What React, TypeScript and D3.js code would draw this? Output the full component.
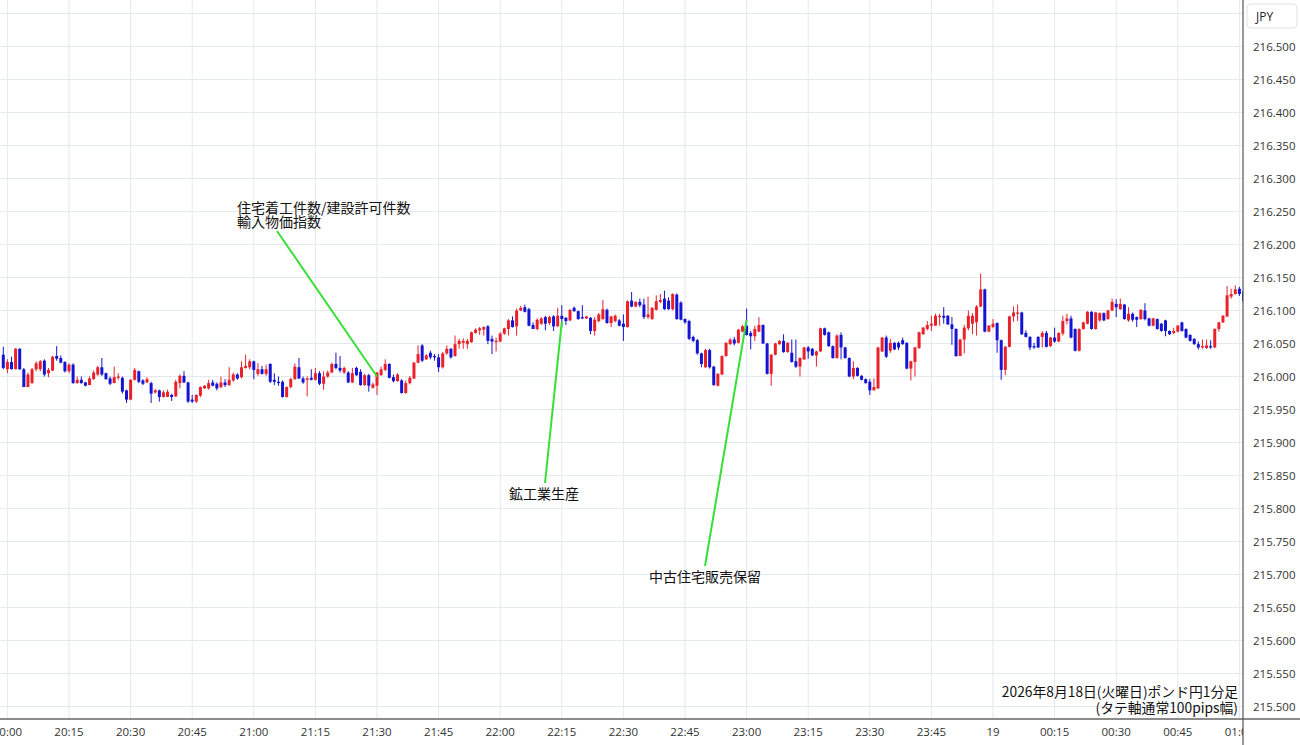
import React from 'react';
import * as d3 from 'd3';

// one-minute GBP/JPY candles: [open, high, low, close] in 0.001 JPY above 216.000
type Bar = [number, number, number, number];

const BASE = 216.0;

// 19:59 - 20:59
const bars20h: Bar[] = [
  [33, 45, 11, 13], [11, 26, 5, 22], [22, 30, 11, 11], [11, 43, 11, 42], [42, 43, 10, 11], [11, 13, -16, -16], [-16, 6, -16, 3], [-10, 13, -11, 11], [11, 23, 8, 20], [11, 25, 8, 23],
  [24, 26, 0, 3], [5, 13, -1, 10], [9, 31, 8, 30], [31, 46, 24, 27], [28, 32, 20, 21], [22, 23, 6, 8], [8, 20, 5, 18], [18, 20, -11, -10], [-10, 0, -11, -5], [-5, 0, -11, -10],
  [-9, -8, -15, -14], [-13, 0, -13, -3], [-4, 9, -5, 6], [3, 16, 1, 14], [14, 28, 1, 3], [5, 6, -5, -4], [-3, 0, -13, -11], [-10, 15, -10, -1], [-2, 5, -5, 0], [-2, 0, -26, -23],
  [-21, -20, -40, -35], [-35, -4, -36, -5], [-5, 13, -6, 10], [8, 9, -10, -8], [-6, -4, -13, -11], [-9, -1, -10, -4], [-10, -8, -40, -26], [-24, -19, -26, -21], [-21, -20, -38, -31], [-31, -21, -32, -24],
  [-31, -20, -31, -23], [-28, -26, -37, -31], [-30, -5, -31, -8], [-10, 3, -18, 1], [1, 8, -10, -9], [-9, -8, -40, -38], [-35, -28, -40, -38], [-38, -27, -40, -28], [-29, -15, -31, -16], [-18, -13, -19, -14],
  [-18, -5, -20, -10], [-9, -5, -15, -14], [-11, -9, -21, -18], [-16, 0, -18, -9], [-9, -4, -16, -13], [-13, 14, -14, -5], [-6, 6, -8, 3], [3, 5, -5, -3], [-1, 23, -3, 14], [13, 33, 12, 16],
  [14, 26, 11, 23],
];

// 21:00 - 21:59
const bars21h: Bar[] = [
  [23, 24, -4, 10], [4, 20, 1, 11], [11, 16, 3, 4], [4, 18, 1, 11], [19, 20, -10, -8], [-5, 5, -13, -8], [-8, 0, -14, -10], [-8, -6, -32, -31], [-31, -15, -32, -16], [-16, -2, -18, -4],
  [-4, 20, -5, 15], [14, 28, -4, -3], [-3, 0, -11, -9], [-5, 0, -30, -3], [-2, 11, -6, -5], [-5, 13, -6, 5], [5, 8, -13, -11], [-11, 8, -20, 0], [0, 9, -2, 6], [6, 21, 5, 19],
  [19, 36, 11, 13], [13, 31, 6, 9], [6, 15, 4, 13], [6, 8, -10, -9], [-9, 13, -10, 5], [13, 15, 1, 2], [7, 11, -14, -13], [-13, 4, -14, 2], [2, 4, -23, -14], [-17, -9, -18, -12],
  [-14, 7, -28, 6], [2, 15, 1, 11], [10, 26, 8, 19], [19, 20, -3, -2], [-1, 3, -9, -7], [-7, 5, -8, 3], [-6, -4, -26, -25], [-25, -6, -26, -10], [-10, 1, -12, -2], [-3, 22, -4, 21],
  [21, 47, 20, 34], [47, 49, 22, 24], [26, 34, 25, 32], [36, 39, 26, 29], [31, 34, 24, 29], [29, 34, 7, 14], [14, 37, 12, 35], [35, 47, 33, 42], [42, 43, 27, 29], [31, 62, 30, 49],
  [49, 57, 42, 54], [51, 58, 42, 54], [49, 57, 42, 54], [52, 68, 51, 67], [66, 73, 65, 71], [70, 75, 63, 73], [71, 76, 62, 75], [76, 78, 49, 54], [57, 62, 34, 53], [52, 59, 38, 54],
];

// 22:00 - 22:59
const bars22h: Bar[] = [
  [53, 67, 52, 65], [65, 74, 63, 73], [72, 87, 62, 85], [85, 91, 74, 75], [76, 103, 62, 100], [100, 107, 99, 104], [105, 109, 97, 98], [102, 104, 76, 77], [78, 82, 72, 72], [72, 88, 70, 86],
  [80, 90, 78, 88], [90, 92, 70, 80], [81, 92, 78, 90], [91, 93, 69, 76], [76, 104, 75, 92], [92, 108, 75, 87], [89, 90, 78, 84], [85, 102, 84, 101], [104, 106, 98, 99], [99, 100, 86, 87],
  [90, 108, 87, 88], [88, 92, 87, 91], [89, 90, 64, 69], [69, 90, 62, 86], [84, 96, 82, 94], [87, 116, 86, 102], [101, 103, 80, 81], [81, 92, 75, 91], [84, 94, 82, 92], [85, 87, 76, 77],
  [80, 94, 54, 75], [75, 115, 74, 114], [115, 128, 105, 106], [106, 114, 105, 113], [113, 118, 105, 108], [109, 118, 87, 90], [90, 121, 87, 94], [87, 105, 86, 104], [101, 123, 100, 114], [113, 125, 111, 116],
  [118, 130, 101, 102], [115, 120, 101, 102], [102, 126, 100, 125], [124, 126, 86, 87], [112, 114, 85, 86], [87, 88, 80, 82], [84, 86, 55, 57], [60, 62, 52, 54], [55, 57, 33, 35], [35, 36, 14, 19],
  [14, 42, 13, 40], [40, 42, 12, 14], [15, 16, -14, -13], [-14, 5, -15, 4], [3, 32, 2, 31], [31, 52, 30, 51], [49, 58, 48, 56], [56, 60, 47, 50], [51, 72, 50, 71], [68, 78, 67, 76],
];

// 23:00 - 23:59
const bars23h: Bar[] = [
  [77, 103, 62, 63], [66, 69, 41, 61], [61, 77, 54, 72], [68, 90, 67, 78], [78, 79, 49, 50], [50, 51, 3, 4], [4, 34, -14, 33], [33, 51, 32, 50], [49, 55, 48, 54], [54, 64, 36, 37],
  [37, 52, 36, 51], [36, 56, 21, 22], [23, 56, 13, 15], [15, 29, 0, 28], [26, 45, 25, 44], [44, 46, 27, 38], [42, 43, 31, 32], [32, 39, 15, 38], [38, 74, 37, 73], [73, 74, 62, 63],
  [67, 68, 45, 46], [46, 47, 27, 28], [28, 64, 27, 62], [63, 67, 26, 44], [44, 45, 27, 28], [28, 29, -1, 0], [0, 23, -4, 13], [13, 14, 0, 1], [1, 2, -6, -5], [-4, -3, -11, -10],
  [-8, -4, -28, -21], [-21, -3, -21, -16], [-18, 45, -19, 44], [38, 60, 37, 59], [59, 62, 28, 30], [39, 57, 36, 51], [51, 52, 40, 41], [51, 53, 40, 44], [55, 59, 48, 49], [51, 52, 11, 12],
  [12, 24, -6, 23], [22, 45, 0, 44], [43, 68, 42, 67], [64, 75, 63, 74], [72, 84, 70, 78], [77, 92, 69, 80], [77, 95, 77, 92], [90, 95, 77, 92], [92, 105, 80, 89], [92, 93, 78, 79],
  [79, 90, 48, 72], [72, 73, 30, 31], [31, 57, 31, 56], [56, 78, 35, 74], [73, 100, 70, 92], [80, 96, 64, 92], [82, 108, 62, 106], [106, 156, 105, 132], [132, 133, 67, 68], [68, 78, 67, 77],
];

// 00:00 - 01:01 (19th)
const bars00h: Bar[] = [
  [75, 87, 73, 80], [81, 82, 36, 55], [55, 56, -5, 10], [10, 46, 2, 45], [45, 92, 44, 91], [91, 106, 83, 97], [95, 109, 84, 97], [97, 98, 63, 64], [66, 70, 59, 60], [60, 61, 40, 44],
  [46, 51, 42, 44], [60, 61, 43, 44], [60, 69, 44, 66], [66, 69, 44, 45], [46, 60, 45, 59], [59, 74, 51, 53], [53, 67, 52, 66], [65, 92, 62, 84], [84, 95, 79, 88], [88, 92, 58, 59],
  [72, 73, 38, 39], [39, 73, 38, 72], [72, 83, 71, 82], [80, 99, 79, 98], [98, 99, 71, 72], [72, 98, 71, 97], [85, 97, 83, 96], [96, 97, 84, 85], [87, 101, 86, 100], [100, 118, 99, 113],
  [110, 117, 90, 105], [102, 118, 101, 110], [109, 110, 86, 87], [85, 105, 83, 95], [95, 97, 83, 86], [90, 91, 75, 86], [87, 102, 86, 101], [100, 111, 85, 87], [88, 89, 76, 77], [77, 89, 76, 88],
  [87, 88, 71, 72], [80, 81, 68, 69], [85, 86, 61, 69], [69, 70, 63, 64], [66, 74, 64, 69], [68, 78, 67, 77], [82, 83, 68, 69], [72, 73, 58, 59], [63, 64, 53, 54], [57, 58, 48, 49],
  [49, 53, 41, 44], [44, 56, 42, 46], [43, 56, 42, 47], [46, 55, 42, 44], [44, 73, 43, 72], [72, 83, 68, 82], [82, 93, 81, 92], [91, 137, 90, 123], [121, 133, 118, 125], [125, 138, 124, 132],
  [133, 136, 122, 125], [129, 131, 112, 114],
];

const segments = [
  { start: new Date(2026, 7, 18, 19, 59), bars: bars20h },
  { start: new Date(2026, 7, 18, 21, 0), bars: bars21h },
  { start: new Date(2026, 7, 18, 22, 0), bars: bars22h },
  { start: new Date(2026, 7, 18, 23, 0), bars: bars23h },
  { start: new Date(2026, 7, 19, 0, 0), bars: bars00h },
];

const priceTicks = d3.range(0, 21).map(i => 215.5 + i * 0.05);
const gridPrices = d3.range(0, 22).map(i => 215.5 + i * 0.05);

const events = [
  { time: new Date(2026, 7, 18, 21, 30), price: 216.0, lines: ['住宅着工件数/建設許可件数', '輸入物価指数'] },
  { time: new Date(2026, 7, 18, 22, 15), price: 216.083, lines: ['鉱工業生産'] },
  { time: new Date(2026, 7, 18, 23, 0), price: 216.086, lines: ['中古住宅販売保留'] },
];
// where each event label sits, and where its leader line starts
const labelLayout = [
  { x: 237, y: 213, lx: 277, ly: 231 },
  { x: 509, y: 499, lx: 545, ly: 483 },
  { x: 649, y: 582, lx: 705, ly: 566 },
];

const titleLines = ['2026年8月18日(火曜日)ポンド円1分足', '(タテ軸通常100pips幅)'];
const currency = 'JPY';

const W = 1300;
const H = 745;
const plotRight = 1243;
const plotBottom = 719;

const UP = '#e9222a';
const DOWN = '#1414d2';
const GRID = '#e3e9ef';
const GREEN = '#36e036';
const axisFont = '"Open Sans", "DejaVu Sans", sans-serif';
const jpFont = '"Noto Sans CJK JP", sans-serif';

export default function App() {
  const x = d3.scaleTime()
    .domain([new Date(2026, 7, 18, 20, 0), new Date(2026, 7, 19, 1, 0)])
    .range([7.4, 1239.4]);
  const y = d3.scaleLinear().domain([215.5, 216.5]).range([706.5, 46.5]);

  const candles = segments.flatMap(s =>
    s.bars.map((b, i) => ({
      t: d3.timeMinute.offset(s.start, i),
      o: BASE + b[0] / 1000,
      h: BASE + b[1] / 1000,
      l: BASE + b[2] / 1000,
      c: BASE + b[3] / 1000,
    }))
  );

  const timeTicks = d3.timeMinute.every(15)!.range(
    new Date(2026, 7, 18, 20, 0),
    new Date(2026, 7, 19, 1, 1)
  );
  const hm = d3.timeFormat('%H:%M');
  const fmtTime = (d: Date) => (d.getHours() === 0 && d.getMinutes() === 0 ? d3.timeFormat('%-d')(d) : hm(d));
  const fmtPrice = d3.format('.3f');
  const bodyW = 3;

  return (
    <svg width={W} height={H} style={{ position: 'absolute', left: 0, top: 0, background: '#fff' }}>
      <defs>
        <clipPath id="plotClip">
          <rect x={0} y={0} width={plotRight} height={plotBottom} />
        </clipPath>
        <clipPath id="xLabClip">
          <rect x={0} y={plotBottom} width={plotRight} height={H - plotBottom} />
        </clipPath>
      </defs>
      <rect x={0} y={0} width={W} height={H} fill="#fff" />

      <g clipPath="url(#plotClip)">
        {timeTicks.map(t => (
          <line key={+t} x1={x(t)} x2={x(t)} y1={0} y2={plotBottom} stroke={GRID} strokeWidth={1} />
        ))}
        {gridPrices.map(p => (
          <line key={p} x1={0} x2={plotRight} y1={y(p)} y2={y(p)} stroke={GRID} strokeWidth={1} />
        ))}

        {candles.map(d => {
          const cx = x(d.t);
          const col = d.c >= d.o ? UP : DOWN;
          const top = y(Math.max(d.o, d.c));
          const hgt = Math.max(1, Math.abs(y(d.o) - y(d.c)));
          return (
            <g key={+d.t}>
              <line x1={cx} x2={cx} y1={y(d.h)} y2={y(d.l)} stroke={col} strokeWidth={1} />
              <rect x={cx - bodyW / 2} y={top} width={bodyW} height={hgt} fill={col} />
            </g>
          );
        })}

        {events.map((e, i) => {
          const lay = labelLayout[i];
          return (
            <g key={i}>
              <line x1={lay.lx} y1={lay.ly} x2={x(e.time)} y2={y(e.price)} stroke={GREEN} strokeWidth={2} />
              <text x={lay.x} y={lay.y} fontFamily={jpFont} fontSize={14} fill="#111">
                {e.lines.map((s, j) => (
                  <tspan key={j} x={lay.x} dy={j === 0 ? 0 : 14}>{s}</tspan>
                ))}
              </text>
            </g>
          );
        })}

        <text x={1238} y={697} textAnchor="end" fontFamily={jpFont} fontSize={13.8} fill="#111">
          {titleLines.map((s, j) => (
            <tspan key={j} x={1238} dy={j === 0 ? 0 : 15.5}>{s}</tspan>
          ))}
        </text>
      </g>

      {/* axes */}
      <line x1={0} x2={W} y1={plotBottom} y2={plotBottom} stroke="#666" strokeWidth={1.6} />
      <line x1={plotRight} x2={plotRight} y1={0} y2={H} stroke="#555" strokeWidth={1.2} />

      <g clipPath="url(#xLabClip)">
        {timeTicks.map(t => (
          <text key={+t} x={x(t)} y={736} textAnchor="middle" fontFamily={axisFont} fontSize={11.5} fill="#333">
            {fmtTime(t)}
          </text>
        ))}
      </g>

      {priceTicks.map(p => (
        <text key={p} x={1253} y={y(p) + 4} fontFamily={axisFont} fontSize={11.5} fill="#333">
          {fmtPrice(p)}
        </text>
      ))}

      <rect x={1247} y={4} width={50} height={24} rx={4} fill="#fff" stroke="#e2e2e2" />
      <text x={1256} y={20.5} fontFamily={axisFont} fontSize={12} fill="#222">{currency}</text>
    </svg>
  );
}
